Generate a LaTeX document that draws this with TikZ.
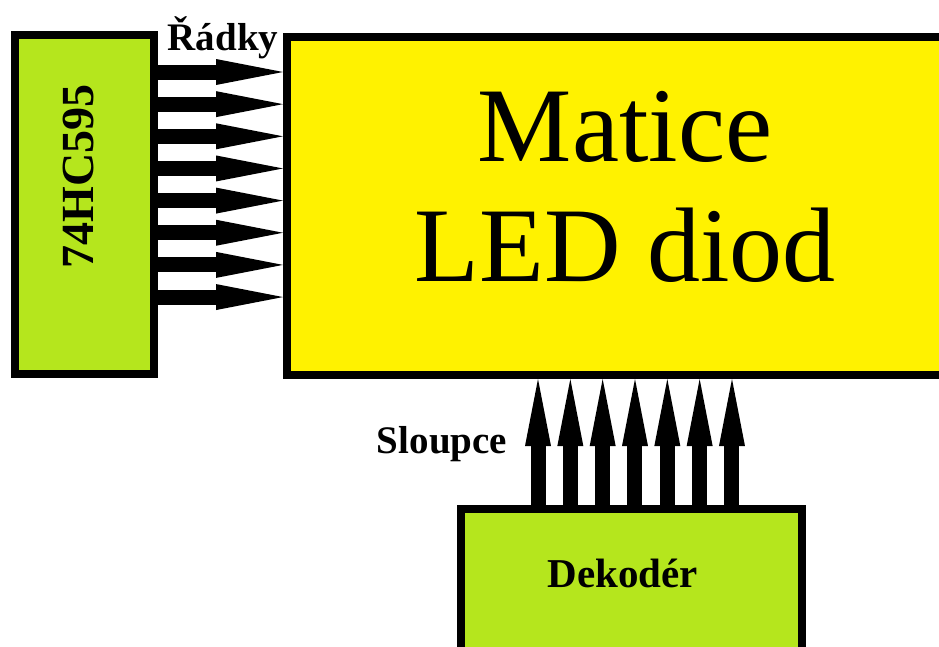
\documentclass[tikz,border=0pt]{standalone}
\usepackage{fontspec}
\setmainfont{Liberation Serif}
\usetikzlibrary{arrows.meta}
\definecolor{paintlime}{RGB}{181,230,29}
\definecolor{paintyellow}{RGB}{255,242,0}

\begin{document}
\begin{tikzpicture}[x=1pt,y=-1pt,
    blok/.style={draw, line width=8pt, inner sep=0pt},
    bus/.style={line width=15pt, -{Triangle[width=26pt,length=67pt,line width=0pt]}},
    popis/.style={inner sep=0pt, font=\fontsize{39}{39}\selectfont\bfseries}]
  \useasboundingbox (0,0) rectangle (939,646);
  \clip (0,0) rectangle (939,646);

  % bloky
  \node[blok, fill=paintlime, minimum width=139pt, minimum height=339pt] (hc) at (84.5,204.5) {};
  \node[blok, fill=paintyellow, minimum width=688pt, minimum height=338pt] (leds) at (631,206) {};
  \node[blok, fill=paintlime, minimum width=341pt, minimum height=171pt] (dek) at (631.5,594.5) {};

  % texty
  \node[rotate=90, inner sep=0pt, font=\fontsize{46}{46}\selectfont\bfseries] (hclabel) at (78,176) {74HC595};
  \node[anchor=south, align=center, inner sep=0pt, font=\fontsize{106}{120}\selectfont] (ledslabel) at (625,283) {Matice\\LED diod};
  \node[popis, anchor=base, font=\fontsize{41}{41}\selectfont\bfseries] (deklabel) at (623,587) {Dekodér};
  \node[popis, anchor=base] (radky) at (223,50) {Řádky};
  \node[popis, anchor=base] (sloupce) at (442,453) {Sloupce};

  % radky
  \foreach \i [evaluate=\i as \y using 72+32.15*\i] in {0,...,7}
    \draw[bus] (hc.east |- 0,\y) -- (leds.west |- 0,\y);

  % sloupce
  \foreach \i [evaluate=\i as \x using 538+32.33*\i] in {0,...,6}
    \draw[bus] (dek.north -| \x,0) -- (leds.south -| \x,0);
\end{tikzpicture}
\end{document}
